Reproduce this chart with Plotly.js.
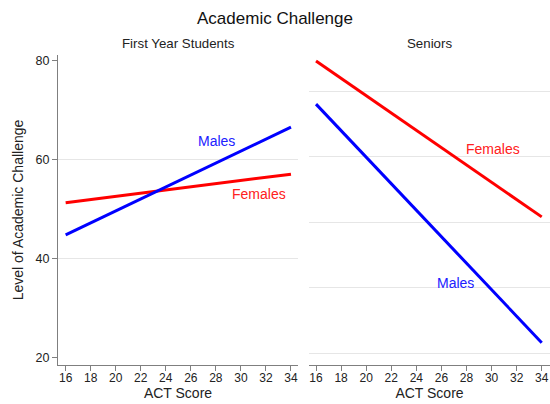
<!DOCTYPE html>
<html>
<head>
<meta charset="utf-8">
<script src="https://cdn.plot.ly/plotly-3.0.1.min.js"></script>
<style>html,body{margin:0;padding:0;background:#fff;}#chart{width:550px;height:404px;}</style>
</head>
<body>
<div id="chart"></div>
<script>
const actScores = [16, 34];
const fyMales = [44.8, 66.6];
const fyFemales = [51.3, 57.1];
const srMales = [78.0, 41.6];
const srFemales = [84.6, 60.8];
const xTicks = [16, 18, 20, 22, 24, 26, 28, 30, 32, 34];
const fyYTicks = [20, 40, 60, 80];
const srYTicks = [40, 50, 60, 70, 80];

const FONT = 'Liberation Sans, Arial, sans-serif';
const BLUE = '#0000ff', RED = '#ff0000';
const GRID = '#e6e6e6', AXIS = '#7f7f7f';

const traces = [
  {x: actScores, y: fyFemales, xaxis: 'x', yaxis: 'y', mode: 'lines', line: {color: RED, width: 3}, name: 'Females', hoverinfo: 'skip'},
  {x: actScores, y: fyMales, xaxis: 'x', yaxis: 'y', mode: 'lines', line: {color: BLUE, width: 3}, name: 'Males', hoverinfo: 'skip'},
  {x: actScores, y: srFemales, xaxis: 'x2', yaxis: 'y2', mode: 'lines', line: {color: RED, width: 3}, name: 'Females', hoverinfo: 'skip'},
  {x: actScores, y: srMales, xaxis: 'x2', yaxis: 'y2', mode: 'lines', line: {color: BLUE, width: 3}, name: 'Males', hoverinfo: 'skip'}
];

const xCommon = {
  tickvals: xTicks, ticktext: xTicks.map(String),
  ticks: 'outside', ticklen: 5, tickcolor: AXIS, tickwidth: 1,
  ticklabelstandoff: -3,
  showline: true, linecolor: AXIS, linewidth: 1,
  showgrid: false, zeroline: false,
  tickfont: {family: FONT, size: 12, color: '#222'},
  title: {text: 'ACT Score', font: {family: FONT, size: 14, color: '#222'}, standoff: 2}
};

const layout = {
  width: 550, height: 404,
  margin: {l: 0, r: 0, t: 0, b: 0},
  paper_bgcolor: '#fff', plot_bgcolor: '#fff',
  showlegend: false,
  title: {text: 'Academic Challenge', font: {family: FONT, size: 17, color: '#111'}, x: 0.5, xanchor: 'center', y: 1 - 18/404, yref: 'container', yanchor: 'middle'},
  xaxis: Object.assign({}, xCommon, {domain: [58/550, 298/550], range: [15.39, 34.56], anchor: 'y'}),
  xaxis2: Object.assign({}, xCommon, {domain: [309/550, 1], range: [15.44, 34.66], anchor: 'y2'}),
  yaxis: {
    domain: [1 - 365/404, 1 - 55/404], range: [18.5, 81.2], anchor: 'x',
    tickvals: fyYTicks, ticktext: fyYTicks.map(String),
    ticks: 'outside', ticklen: 5, tickcolor: AXIS,
    showline: true, linecolor: AXIS, linewidth: 1,
    showgrid: false, zeroline: false,
    minor: {tickvals: [40, 60], showgrid: true, gridcolor: GRID, gridwidth: 1, ticklen: 0},
    tickfont: {family: FONT, size: 12.5, color: '#222'},
    title: {text: 'Level of Academic Challenge', font: {family: FONT, size: 14, color: '#222'}, standoff: 8}
  },
  yaxis2: {
    domain: [1 - 365/404, 1 - 55/404], range: [38.2, 85.5], anchor: 'x2',
    tickvals: srYTicks, showticklabels: false, ticks: '',
    showline: false, showgrid: true, gridcolor: GRID, gridwidth: 1, zeroline: false
  },
  annotations: [
    {text: 'First Year Students', xref: 'x domain', yref: 'paper', x: 0.5, y: 1 - 44/404, showarrow: false, font: {family: FONT, size: 13.3, color: '#222'}, xanchor: 'center', yanchor: 'middle'},
    {text: 'Seniors', xref: 'x2 domain', yref: 'paper', x: 0.5, y: 1 - 44/404, showarrow: false, font: {family: FONT, size: 13.3, color: '#222'}, xanchor: 'center', yanchor: 'middle'},
    {text: 'Males', xref: 'x', yref: 'y', x: 28.07, y: 63.8, showarrow: false, font: {family: FONT, size: 14, color: '#2020ff'}},
    {text: 'Females', xref: 'x', yref: 'y', x: 31.44, y: 53.0, showarrow: false, font: {family: FONT, size: 14, color: '#ff2020'}},
    {text: 'Females', xref: 'x2', yref: 'y2', x: 30.15, y: 71.2, showarrow: false, font: {family: FONT, size: 14, color: '#ff2020'}},
    {text: 'Males', xref: 'x2', yref: 'y2', x: 27.16, y: 50.7, showarrow: false, font: {family: FONT, size: 14, color: '#2020ff'}}
  ]
};

Plotly.newPlot('chart', traces, layout, {displayModeBar: false, staticPlot: true});
</script>
</body>
</html>
